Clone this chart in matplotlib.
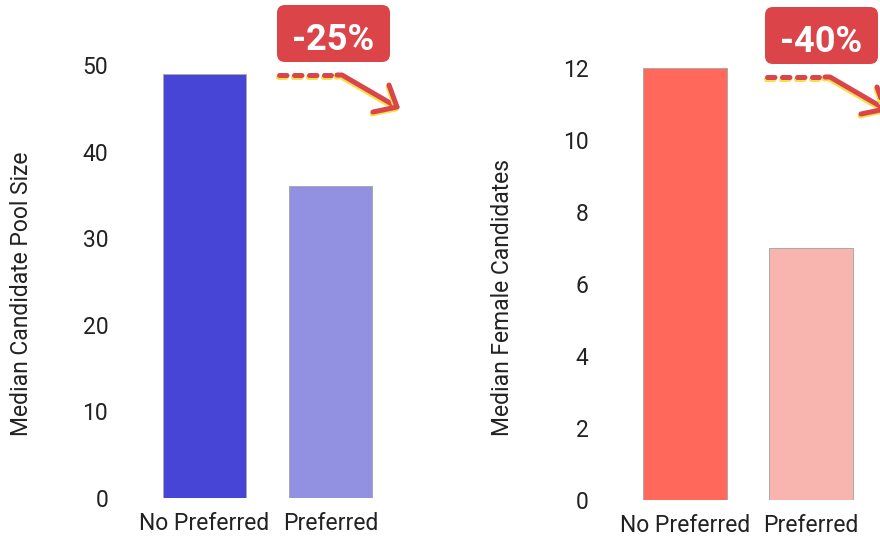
import matplotlib
matplotlib.use("Agg")
import matplotlib.pyplot as plt
from matplotlib.patches import FancyBboxPatch
from matplotlib.lines import Line2D
from matplotlib.transforms import IdentityTransform
import matplotlib.patheffects as pe

plt.rcParams['font.family'] = ['Roboto', 'DejaVu Sans']
plt.rcParams['lines.scale_dashes'] = False

categories = ["No Preferred", "Preferred"]
pool_values = [49, 36]
female_values = [12, 7]
pool_ylabel = "Median Candidate Pool Size"
female_ylabel = "Median Female Candidates"
pool_ticks = [0, 10, 20, 30, 40, 50]
female_ticks = [0, 2, 4, 6, 8, 10, 12]
pool_change = "-25%"
female_change = "-40%"

pool_colors = ["#4745D5", "#9291E1"]
female_colors = ["#FF685A", "#F8B4AE"]
RED = "#DB4448"
YELLOW = "#F4E04D"
TXT = "#222222"
FS = 16.5

W, H = 880, 538
fig = plt.figure(figsize=(W / 100, H / 100), dpi=100)


def axes_px(left, right, top, bottom):
    return fig.add_axes([left / W, 1 - bottom / H, (right - left) / W, (bottom - top) / H])


def style(ax, ticks, ymax):
    ax.set_xlim(-0.5, 1.5)
    ax.set_ylim(0, ymax)
    ax.set_yticks(ticks)
    for s in ax.spines.values():
        s.set_visible(False)
    ax.tick_params(axis='both', length=0, labelsize=FS, colors=TXT)
    ax.tick_params(axis='y', pad=24)
    ax.tick_params(axis='x', pad=10)
    ax.patch.set_alpha(0)


ax1 = axes_px(141.5, 393.5, 65, 498)
ax1.bar(categories, pool_values, width=0.66, color=pool_colors,
        edgecolor="#aaaaaa", linewidth=0.7, joinstyle='round')
style(ax1, pool_ticks, 50)

ax2 = axes_px(622, 874, 68, 500)
ax2.bar(categories, female_values, width=0.66, color=female_colors,
        edgecolor="#aaaaaa", linewidth=0.7, joinstyle='round')
style(ax2, female_ticks, 12)

fig.text(22 / W, 1 - 294 / H, pool_ylabel, rotation=90, ha='center', va='center',
         fontsize=FS, color=TXT)
fig.text(502 / W, 1 - 297 / H, female_ylabel, rotation=90, ha='center', va='center',
         fontsize=FS, color=TXT)

idt = IdentityTransform()
shadow = [pe.SimpleLineShadow(offset=(-0.7, -1.4), shadow_color=YELLOW, alpha=1), pe.Normal()]


def D(x, y):
    return x, H - y


def add_line(pts, **kw):
    p = [D(x, y) for x, y in pts]
    ln = Line2D([q[0] for q in p], [q[1] for q in p], transform=idt, color=RED,
                linewidth=3.6, solid_capstyle='round', solid_joinstyle='round',
                dash_capstyle='round', **kw)
    ln.set_path_effects(shadow)
    fig.add_artist(ln)


def badge(x0, y0, label):
    bx, by = D(x0, y0 + 57)
    box = FancyBboxPatch((bx, by), 113, 57, boxstyle="round,pad=0,rounding_size=8",
                         facecolor=RED, edgecolor='none', transform=idt)
    fig.add_artist(box)
    cx, cy = D(x0 + 56.5, y0 + 45)
    fig.text(cx, cy, label, transform=idt, ha='center', va='baseline',
             fontsize=26, fontweight='bold', color='white')
    ly = y0 + 70
    add_line([(x0 + 1.5, ly), (x0 + 54, ly)], dashes=(5.4, 5.4))
    add_line([(x0 + 60, ly), (x0 + 65, ly), (x0 + 120, ly + 32)])
    add_line([(x0 + 112, ly + 10), (x0 + 120, ly + 32), (x0 + 96, ly + 37)])


badge(277, 5, pool_change)
badge(765, 7, female_change)

fig.savefig("out.png", dpi=100)
